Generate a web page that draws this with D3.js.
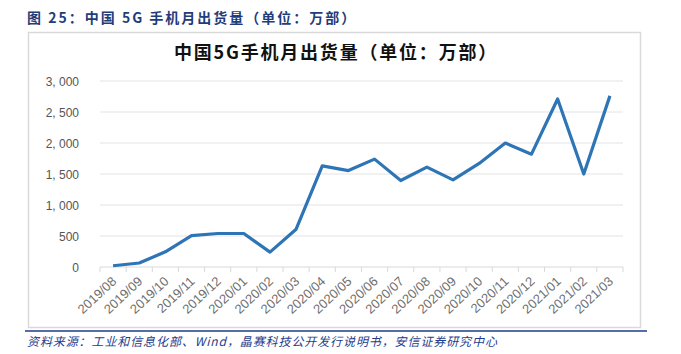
<!DOCTYPE html>
<html>
<head>
<meta charset="utf-8">
<script src="https://cdn.jsdelivr.net/npm/d3@7"></script>
<style>
  body { margin: 0; background: #fff; }
  svg text { font-family: "Noto Sans CJK SC", "Liberation Sans", sans-serif; }
</style>
</head>
<body>
<div id="container"></div>
<script>
var months = ["2019/08", "2019/09", "2019/10", "2019/11", "2019/12", "2020/01", "2020/02",
    "2020/03", "2020/04", "2020/05", "2020/06", "2020/07", "2020/08", "2020/09", "2020/10",
    "2020/11", "2020/12", "2021/01", "2021/02", "2021/03"];
var shipments = [20, 65, 245, 505, 540, 540, 240, 610, 1630, 1555, 1740, 1395, 1610, 1405,
    1670, 2000, 1820, 2710, 1500, 2760];
var yTicks = [0, 500, 1000, 1500, 2000, 2500, 3000];

var width = 681, height = 354;

var svg = d3.select("#container").append("svg")
    .attr("width", width)
    .attr("height", height);

// header above the chart box
svg.append("text")
    .attr("x", 27).attr("y", 23)
    .style("font-size", "14px")
    .style("font-weight", "bold")
    .style("letter-spacing", "2px")
    .style("fill", "#1f3d7a")
    .text("图 25：中国 5G 手机月出货量（单位：万部）");

// chart frame
svg.append("rect")
    .attr("x", 28.5).attr("y", 32.5)
    .attr("width", 612).attr("height", 295)
    .style("fill", "none")
    .style("stroke", "#d9d9d9")
    .style("stroke-width", 1.5);

svg.append("text")
    .attr("x", 336).attr("y", 59)
    .attr("text-anchor", "middle")
    .style("font-size", "18px")
    .style("font-weight", "bold")
    .style("letter-spacing", "1.8px")
    .style("fill", "#111")
    .text("中国5G手机月出货量（单位：万部）");

var x = d3.scaleBand()
    .domain(months)
    .range([100, 623]);

var y = d3.scaleLinear()
    .domain([0, 3000])
    .range([267, 81]);

// gridlines
svg.append("g").selectAll("line")
    .data(yTicks.slice(1))
    .join("line")
    .attr("x1", 100).attr("x2", 623)
    .attr("y1", d => y(d)).attr("y2", d => y(d))
    .style("stroke", "#e3e3e3")
    .style("stroke-width", 1);

// y axis labels
svg.append("g").selectAll("text")
    .data(yTicks)
    .join("text")
    .attr("x", 79)
    .attr("y", d => y(d) + 4.5)
    .attr("text-anchor", "end")
    .style("font-size", "12px")
    .style("font-family", "'Liberation Sans', sans-serif")
    .style("fill", "#555")
    .text(d => d3.format(",")(d).replace(",", ", "));

// x axis
var xAxis = svg.append("g")
    .attr("transform", "translate(0," + y(0) + ")");
xAxis.append("line")
    .attr("x1", 100).attr("x2", 623)
    .style("stroke", "#d9d9d9");
xAxis.selectAll(".tick")
    .data(months.concat(["end"]))
    .join("line")
    .attr("x1", (d, i) => 100 + i * x.bandwidth())
    .attr("x2", (d, i) => 100 + i * x.bandwidth())
    .attr("y1", 0).attr("y2", 5)
    .style("stroke", "#d9d9d9");
xAxis.selectAll("text")
    .data(months)
    .join("text")
    .attr("transform", d => "translate(" + (x(d) + x.bandwidth() / 2 + 1) + ",12) rotate(-43)")
    .attr("text-anchor", "end")
    .attr("dy", "0.35em")
    .style("font-size", "13px")
    .style("font-family", "'Liberation Sans', sans-serif")
    .style("fill", "#6e6e6e")
    .text(d => d);

// the line
var line = d3.line()
    .x((d, i) => x(months[i]) + x.bandwidth() / 2)
    .y(d => y(d));

svg.append("path")
    .datum(shipments)
    .attr("d", line)
    .style("fill", "none")
    .style("stroke", "#2e75b6")
    .style("stroke-width", 3.2)
    .style("stroke-linejoin", "round");

// source line
svg.append("line")
    .attr("x1", 25).attr("x2", 647)
    .attr("y1", 331).attr("y2", 331)
    .style("stroke", "#1f3d8a")
    .style("stroke-width", 1.5);

svg.append("text")
    .attr("x", 27).attr("y", 346)
    .style("font-size", "12px")
    .style("font-style", "italic")
    .style("letter-spacing", "0.9px")
    .style("fill", "#1f3d8a")
    .text("资料来源：工业和信息化部、Wind，晶赛科技公开发行说明书，安信证券研究中心");
</script>
</body>
</html>
